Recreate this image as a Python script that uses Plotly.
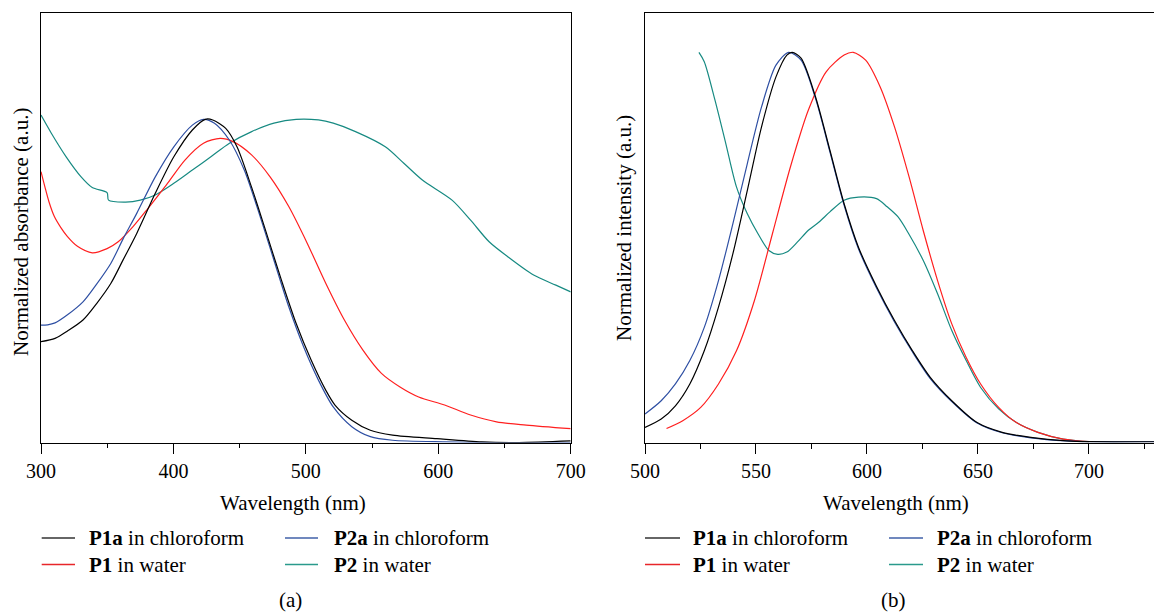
import plotly.graph_objects as go

# ---------------- data (a) absorbance ----------------
abs_p1a_x = [300, 310.6, 320, 331.7, 342, 352.7, 362, 372.3, 386.3, 400.3, 414.3, 424, 429.7, 439.5, 448, 459,
             470.3, 481.5, 492.7, 504, 515, 522, 534.7, 548.7, 565.5, 599, 632.8, 660.8, 700]
abs_p1a_y = [0.312, 0.322, 0.345, 0.379, 0.43, 0.492, 0.565, 0.647, 0.771, 0.884, 0.967, 1.0, 0.998, 0.972, 0.915,
             0.79, 0.647, 0.503, 0.368, 0.255, 0.162, 0.116, 0.069, 0.038, 0.023, 0.012, 0.002, 0.0, 0.005]

abs_p2a_x = [300, 305, 310.6, 320, 331.7, 342, 352.7, 362, 372.3, 386.3, 400.3, 414.3, 422.7, 431, 442.2, 453.5,
             464.7, 475.9, 487.1, 498.3, 509.5, 520.7, 534.7, 548.7, 565.5, 604.8, 640, 700]
abs_p2a_y = [0.363, 0.364, 0.370, 0.395, 0.435, 0.49, 0.554, 0.63, 0.709, 0.822, 0.915, 0.982, 1.0, 0.988, 0.936,
             0.843, 0.709, 0.564, 0.42, 0.296, 0.193, 0.110, 0.049, 0.018, 0.007, 0.002, 0.0, 0.0]

abs_p1_x = [300, 303, 306, 310, 315, 320, 327.5, 338.7, 349.9, 358.3, 369.5, 380.7, 394.7, 408.7, 422.7, 435.3, 445,
            459, 473, 487.1, 501.1, 515.1, 529.1, 543.1, 557.1, 571.1, 585.2, 604.8, 624.4, 644, 666.4, 700]
abs_p1_y = [0.838, 0.79, 0.745, 0.70, 0.665, 0.637, 0.607, 0.587, 0.60, 0.621, 0.668, 0.724, 0.797, 0.874, 0.926,
            0.941, 0.931, 0.89, 0.822, 0.73, 0.616, 0.492, 0.379, 0.286, 0.214, 0.172, 0.141, 0.116, 0.085, 0.064,
            0.054, 0.043]

abs_p2_x = [300, 307.8, 319, 330.3, 338.7, 349.9, 351, 363.9, 375, 386.3, 400.3, 414.3, 428.3, 442.3, 459.1, 475.9,
            492.7, 509.5, 520.7, 537.5, 560, 574, 588, 610.4, 624.4, 638.4, 652.4, 672, 688.8, 700]
abs_p2_y = [1.013, 0.957, 0.884, 0.822, 0.789, 0.773, 0.750, 0.744, 0.75, 0.766, 0.802, 0.843, 0.884, 0.926, 0.962,
            0.988, 1.0, 0.998, 0.988, 0.962, 0.915, 0.864, 0.812, 0.75, 0.688, 0.621, 0.575, 0.518, 0.487, 0.466]

# ---------------- data (b) emission ----------------
em_p1a_x = [500, 507.3, 513.7, 520.2, 526.7, 533.1, 539.6, 546.1, 552.5, 559, 563.9, 566.3, 570.3, 576.8, 583.3,
            589.7, 596.2, 604.3, 612.4, 620.5, 628.5, 638.2, 649.6, 660.9, 673.8, 690, 700, 733]
em_p1a_y = [0.0385, 0.06, 0.094, 0.15, 0.235, 0.347, 0.484, 0.646, 0.809, 0.937, 0.993, 1.0, 0.985, 0.886, 0.749,
            0.612, 0.500, 0.400, 0.3125, 0.235, 0.167, 0.107, 0.051, 0.026, 0.013, 0.004, 0.002, 0.002]

em_p2a_x = [500, 507.3, 513.7, 520.2, 526.7, 533.1, 539.6, 546.1, 552.5, 559, 564.7, 570.3, 576.8, 583.3,
            589.7, 596.2, 604.3, 612.4, 620.5, 628.5, 638.2, 649.6, 660.9, 673.8, 690, 700, 733]
em_p2a_y = [0.073, 0.107, 0.15, 0.21, 0.295, 0.415, 0.561, 0.715, 0.86, 0.967, 1.0, 0.98, 0.882, 0.745,
            0.608, 0.496, 0.396, 0.309, 0.232, 0.164, 0.105, 0.050, 0.025, 0.012, 0.004, 0.002, 0.002]

em_p1_x = [509.7, 517, 525.1, 533.1, 541.2, 549.3, 557.4, 565.5, 573.6, 581.6, 589.7, 593.8, 599.4, 605.9, 612.4,
           619, 625.3, 631.8, 638.2, 644.7, 651.2, 659.3, 667.3, 677, 688.4, 700]
em_p1_y = [0.036, 0.056, 0.09, 0.15, 0.235, 0.364, 0.535, 0.706, 0.852, 0.95, 0.993, 1.0, 0.98, 0.912, 0.809,
           0.68, 0.544, 0.415, 0.304, 0.218, 0.15, 0.09, 0.051, 0.026, 0.0086, 0.002]

em_p2_x = [524.3, 526.7, 531.5, 536.4, 541.2, 546.1, 550.9, 555.8, 559.8, 563.9, 568.7, 573.6, 578.4, 583.3, 589.7,
           596.2, 604.3, 609.1, 614, 618.8, 625.3, 631.8, 638.2, 644.7, 651.2, 659.3, 667.3, 677, 688.4, 700]
em_p2_y = [1.0, 0.976, 0.878, 0.766, 0.655, 0.586, 0.535, 0.492, 0.482, 0.488, 0.514, 0.544, 0.565, 0.591, 0.621,
           0.629, 0.625, 0.604, 0.578, 0.535, 0.467, 0.381, 0.287, 0.21, 0.141, 0.086, 0.051, 0.026, 0.0086, 0.002]

names = ["<b>P1a</b> in chloroform", "<b>P2a</b> in chloroform", "<b>P1</b> in water", "<b>P2</b> in water"]
colors = ["#000000", "#2E4FA3", "#FF1F1F", "#178A82"]
legend_colors = ["#333333", "#4060A8", "#E8262A", "#2A9A8C"]

OFF = 8  # page body margin of the browser
W, H = 1162 - OFF, 614 - OFF
FONT = "Liberation Serif"


def px(x):
    return (x - OFF) / W


def py(y):
    return 1 - (y - OFF) / H


fig = go.Figure()
left = [(abs_p1a_x, abs_p1a_y), (abs_p2a_x, abs_p2a_y), (abs_p1_x, abs_p1_y), (abs_p2_x, abs_p2_y)]
right = [(em_p1a_x, em_p1a_y), (em_p2a_x, em_p2a_y), (em_p1_x, em_p1_y), (em_p2_x, em_p2_y)]
draw_order = [3, 2, 1, 0]
for i in draw_order:
    xs, ys = left[i]
    fig.add_trace(go.Scatter(x=xs, y=ys, mode="lines", xaxis="x", yaxis="y", showlegend=False,
                             line=dict(color=colors[i], width=1.2, shape="spline", smoothing=0.8)))
for i in draw_order:
    xs, ys = right[i]
    fig.add_trace(go.Scatter(x=xs, y=ys, mode="lines", xaxis="x2", yaxis="y2", showlegend=False,
                             line=dict(color=colors[i], width=1.2, shape="spline", smoothing=0.8)))

ydom = [py(442.5), py(13.3)]
axis_common = dict(showgrid=False, zeroline=False, linecolor="black", linewidth=1, automargin=False,
                   tickfont=dict(family=FONT, size=20, color="black"))
fig.update_layout(
    width=W, height=H, margin=dict(l=0, r=0, t=0, b=0, autoexpand=False),
    paper_bgcolor="white", plot_bgcolor="white",
    xaxis=dict(domain=[px(41), px(570.7)], range=[300, 700], dtick=100, tick0=300, ticks="outside",
               ticklen=10, tickwidth=1, tickcolor="black", mirror=True, anchor="y",
               minor=dict(dtick=50, ticks="outside", ticklen=4, tickwidth=1, tickcolor="black"),
               **axis_common),
    yaxis=dict(domain=ydom, range=[0, 1.328], showticklabels=False, ticks="", mirror=True, anchor="x",
               **axis_common),
    xaxis2=dict(domain=[px(645), 1.0], range=[500, 732.9], dtick=50, tick0=500, ticks="outside",
                ticklen=10, tickwidth=1, tickcolor="black", mirror=True, anchor="y2",
                minor=dict(dtick=25, ticks="outside", ticklen=5, tickwidth=1, tickcolor="black"),
                **axis_common),
    yaxis2=dict(domain=ydom, range=[0, 1.100], showticklabels=False, ticks="", mirror=False, anchor="x2",
                **axis_common),
)

ann = []
shapes = []
tf = dict(family=FONT, size=21, color="black")
# axis titles
for cx, txt in [(292.5, "Wavelength (nm)"), (896, "Wavelength (nm)")]:
    ann.append(dict(x=px(cx), y=py(503), xref="paper", yref="paper", text=txt, showarrow=False,
                    xanchor="center", yanchor="middle", font=tf))
ann.append(dict(x=px(21), y=py(232), xref="paper", yref="paper", text="Normalized absorbance (a.u.)",
                showarrow=False, textangle=-90, xanchor="center", yanchor="middle", font=tf))
ann.append(dict(x=px(624), y=py(228), xref="paper", yref="paper", text="Normalized intensity (a.u.)",
                showarrow=False, textangle=-90, xanchor="center", yanchor="middle", font=tf))
# captions
for cx, txt in [(290, "(a)"), (893, "(b)")]:
    ann.append(dict(x=px(cx), y=py(600), xref="paper", yref="paper", text=txt, showarrow=False,
                    xanchor="center", yanchor="middle", font=tf))
# legends
rows = [538, 564.5]
for (l1, l2, t1, l3, l4, t2) in [(41.7, 75, 86.7, 285, 318, 331.7), (645, 680, 691, 889, 923, 935)]:
    layout_items = [(0, l1, l2, t1, rows[0]), (1, l3, l4, t2, rows[0]),
                    (2, l1, l2, t1, rows[1]), (3, l3, l4, t2, rows[1])]
    for idx, a, b, t, yy in layout_items:
        shapes.append(dict(type="line", xref="paper", yref="paper", x0=px(a), x1=px(b), y0=py(yy), y1=py(yy),
                           line=dict(color=legend_colors[idx], width=1.5)))
        ann.append(dict(x=px(t), y=py(yy), xref="paper", yref="paper", text=names[idx], showarrow=False,
                        xanchor="left", yanchor="middle", font=tf))

fig.update_layout(annotations=ann, shapes=shapes)
fig.write_html("out.html")
